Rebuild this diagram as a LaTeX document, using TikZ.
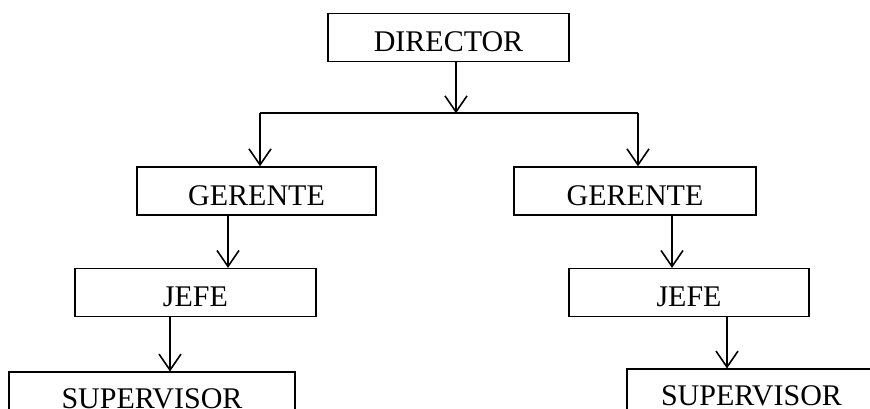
\documentclass[tikz,border=0pt]{standalone}
\usepackage{fontspec}
\setmainfont{Liberation Serif}
\usetikzlibrary{arrows.meta}
\usetikzlibrary{positioning}
\tikzset {
  syntax path/.style = {
    draw = black,
    line width = 1.6pt
  },
  % path style with an open tip at its end
  arr/.style = {
    syntax path,
    -{Straight Barb[length = 16pt, width = 22pt]}
  },
  % path style with no arrows
  narr/.style = {
    syntax path
  }
}
\tikzset {
  % box of the chart
  unit/.style = {
    draw = black,
    line width = 1.6pt,
    rectangle,
    minimum width = 241pt,
    minimum height = 48pt,
    inner sep = 0pt,
    text height = 28pt,
    text depth = 0pt,
    font = \fontsize{30}{36}\selectfont
  },
  node distance = 52pt
}
\begin{document}
\begin{tikzpicture}[x = 1pt, y = 1pt]
    \path[use as bounding box, clip] (0,0) rectangle (870,409);
    \node[unit] (director) at (448.5,371.5) {DIRECTOR};
    \coordinate [below=51pt of director.south, xshift=7.5pt] (split);
    \coordinate [left=196pt of split] (split-left);
    \coordinate [right=182pt of split] (split-right);
    \node[unit, minimum width=239pt] (ger1) [below=53pt of split-left, xshift=-3.5pt] {GERENTE};
    \node[unit, minimum width=242pt] (ger2) [below=53pt of split-right, xshift=-3pt] {GERENTE};
    \node[unit] (jefe1) [below=of ger1, xshift=-61pt] {JEFE};
    \node[unit, minimum width=240pt] (jefe2) [below=of ger2, xshift=54pt] {JEFE};
    \node[unit, minimum width=286pt, text height=24pt] (sup1) [below=54pt of jefe1, xshift=-43.5pt] {SUPERVISOR};
    \node[unit, minimum width=249pt, text height=25pt] (sup2) [below=51pt of jefe2, xshift=62.5pt] {SUPERVISOR};

    \draw[arr] (director.south -| split) -- (split);
    \draw[narr] (split-left) -- (split-right);
    \draw[arr] (split-left) -- (ger1.north -| split-left);
    \draw[arr] (split-right) -- (ger2.north -| split-right);
    \draw[arr] ([xshift=-28.5pt]ger1.south) -- ([xshift=32.5pt]jefe1.north);
    \draw[arr] ([xshift=37pt]ger2.south) -- ([xshift=-17pt]jefe2.north);
    \draw[arr] ([xshift=-25.5pt]jefe1.south) -- ([xshift=18pt]sup1.north);
    \draw[arr] ([xshift=38pt]jefe2.south) -- ([xshift=-24.5pt]sup2.north);
  \end{tikzpicture}
\end{document}
